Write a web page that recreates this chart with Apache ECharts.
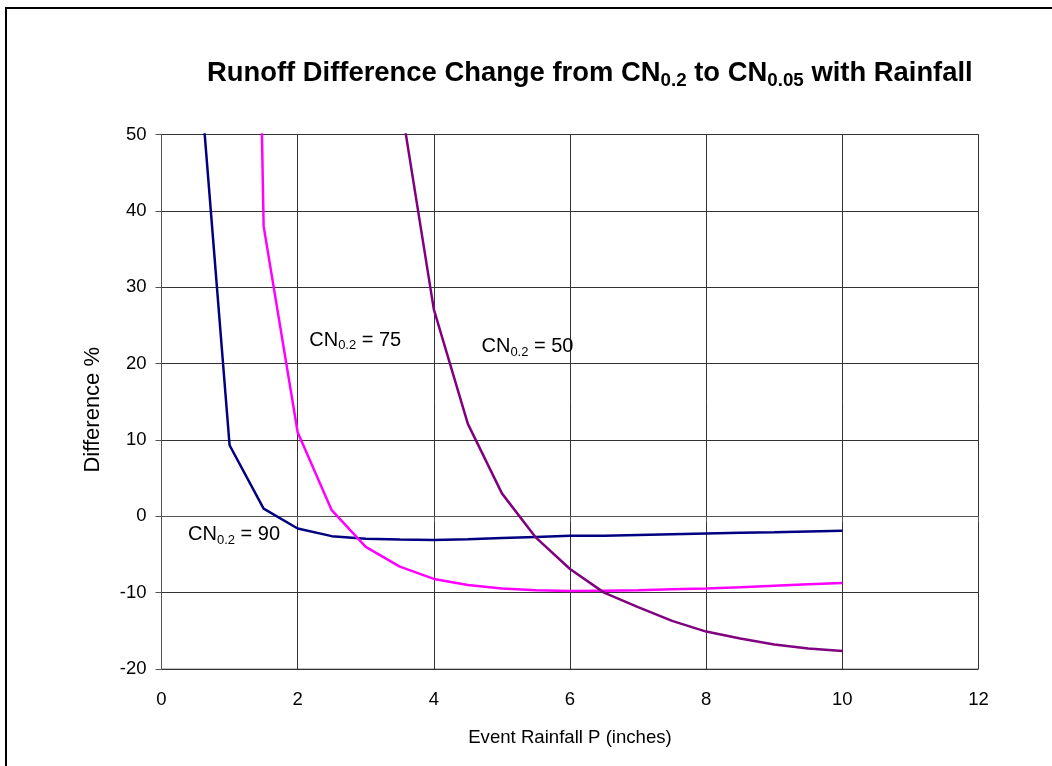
<!DOCTYPE html>
<html>
<head>
<meta charset="utf-8">
<script src="https://cdn.jsdelivr.net/npm/echarts@6/dist/echarts.min.js"></script>
<style>
html,body{margin:0;padding:0;background:#fff;}
#chart{width:1052px;height:766px;}
</style>
</head>
<body>
<div id="chart"></div>
<script>
// Event rainfall P (inches)
var rainfall = [0.5,1.0,1.5,2.0,2.5,3.0,3.5,4.0,4.5,5.0,5.5,6.0,6.5,7.0,7.5,8.0,8.5,9.0,9.5,10.0];
// Difference % for each CN0.2
var cn90 = [65,9.3,1.0,-1.6,-2.6,-2.95,-3.05,-3.1,-3.0,-2.85,-2.7,-2.55,-2.55,-2.45,-2.35,-2.25,-2.15,-2.1,-2.0,-1.9];
var cn75 = [null,280,38,11.0,0.8,-4.0,-6.6,-8.2,-9.0,-9.45,-9.7,-9.8,-9.75,-9.7,-9.55,-9.45,-9.3,-9.1,-8.9,-8.75];
var cn50 = [null,null,null,null,null,null,55,27.1,12.1,3.0,-2.8,-6.9,-10.0,-11.9,-13.7,-15.1,-16.0,-16.8,-17.3,-17.65];
// Curve annotations: [x, y, CN value]
var labels90 = [0.39, -2.4, '90'];
var labels75 = [2.17, 23.05, '75'];
var labels50 = [4.7, 22.2, '50'];
var xTicks = [0,2,4,6,8,10,12];
var yTicks = [-20,-10,0,10,20,30,40,50];

function pairs(vals){
  return rainfall.map(function(x,i){ return [x, vals[i]]; });
}
var font = '"Liberation Sans", Arial, sans-serif';
var richLbl = {
  a:{fontFamily:font,fontSize:20,color:'#000',lineHeight:24,verticalAlign:'middle'},
  s:{fontFamily:font,fontSize:13,color:'#000',lineHeight:24,verticalAlign:'bottom'}
};
function mark(l){
  return {
    symbol:'circle', symbolSize:0, silent:true,
    data:[{coord:[l[0],l[1]], value:l[2]}],
    label:{show:true, position:'right', distance:0,
      formatter:function(p){ return '{a|CN}{s|0.2}{a| = '+p.value+'}'; },
      rich:richLbl}
  };
}
function lineSeries(name, vals, color, lbl){
  return {
    name:name, type:'line', data:pairs(vals), showSymbol:false, symbol:'none',
    clip:true, connectNulls:false,
    lineStyle:{color:color,width:2.5}, itemStyle:{color:color},
    markPoint:mark(lbl), z:3
  };
}
var chart = echarts.init(document.getElementById('chart'));
chart.setOption({
  animation:false,
  backgroundColor:'#fff',
  title:{
    text:'{a|Runoff Difference Change from CN}{s|0.2}{a| to CN}{s|0.05}{a| with Rainfall}',
    left:207, top:56, padding:0,
    textStyle:{rich:{
      a:{fontFamily:font,fontSize:27.4,fontWeight:'bold',color:'#000',lineHeight:34,verticalAlign:'middle'},
      s:{fontFamily:font,fontSize:18.8,fontWeight:'bold',color:'#000',lineHeight:34,verticalAlign:'bottom'}
    }}
  },
  graphic:[{type:'rect',shape:{x:6,y:8,width:1200,height:900},style:{fill:'none',stroke:'#000',lineWidth:2},silent:true,z:-1}],
  grid:{left:161.5,top:134.5,right:73.5,bottom:97,show:true,borderColor:'#808080',borderWidth:1},
  xAxis:{
    type:'value', min:xTicks[0], max:xTicks[xTicks.length-1], interval:2,
    name:'Event Rainfall P (inches)', nameLocation:'middle', nameGap:59,
    nameTextStyle:{fontFamily:font,fontSize:18.6,color:'#000'},
    axisLine:{show:true,lineStyle:{color:'#555',width:1}},
    axisTick:{show:true,length:6,lineStyle:{color:'#555'}},
    axisLabel:{fontFamily:font,fontSize:18.5,color:'#000',margin:21},
    splitLine:{show:true,lineStyle:{color:'#333',width:1}}
  },
  yAxis:{
    type:'value', min:yTicks[0], max:yTicks[yTicks.length-1], interval:10,
    name:'Difference %', nameLocation:'middle', nameGap:58,
    nameTextStyle:{fontFamily:font,fontSize:22,color:'#000',padding:[0,16,0,0]},
    axisLine:{show:true,lineStyle:{color:'#555',width:1}},
    axisTick:{show:true,length:6,lineStyle:{color:'#555'}},
    axisLabel:{fontFamily:font,fontSize:18.5,color:'#000',margin:15},
    splitLine:{show:true,lineStyle:{color:'#333',width:1}}
  },
  series:[
    lineSeries('CN0.2 = 90', cn90, '#000080', labels90),
    lineSeries('CN0.2 = 75', cn75, '#FF00FF', labels75),
    lineSeries('CN0.2 = 50', cn50, '#800080', labels50)
  ]
});
</script>
</body>
</html>
